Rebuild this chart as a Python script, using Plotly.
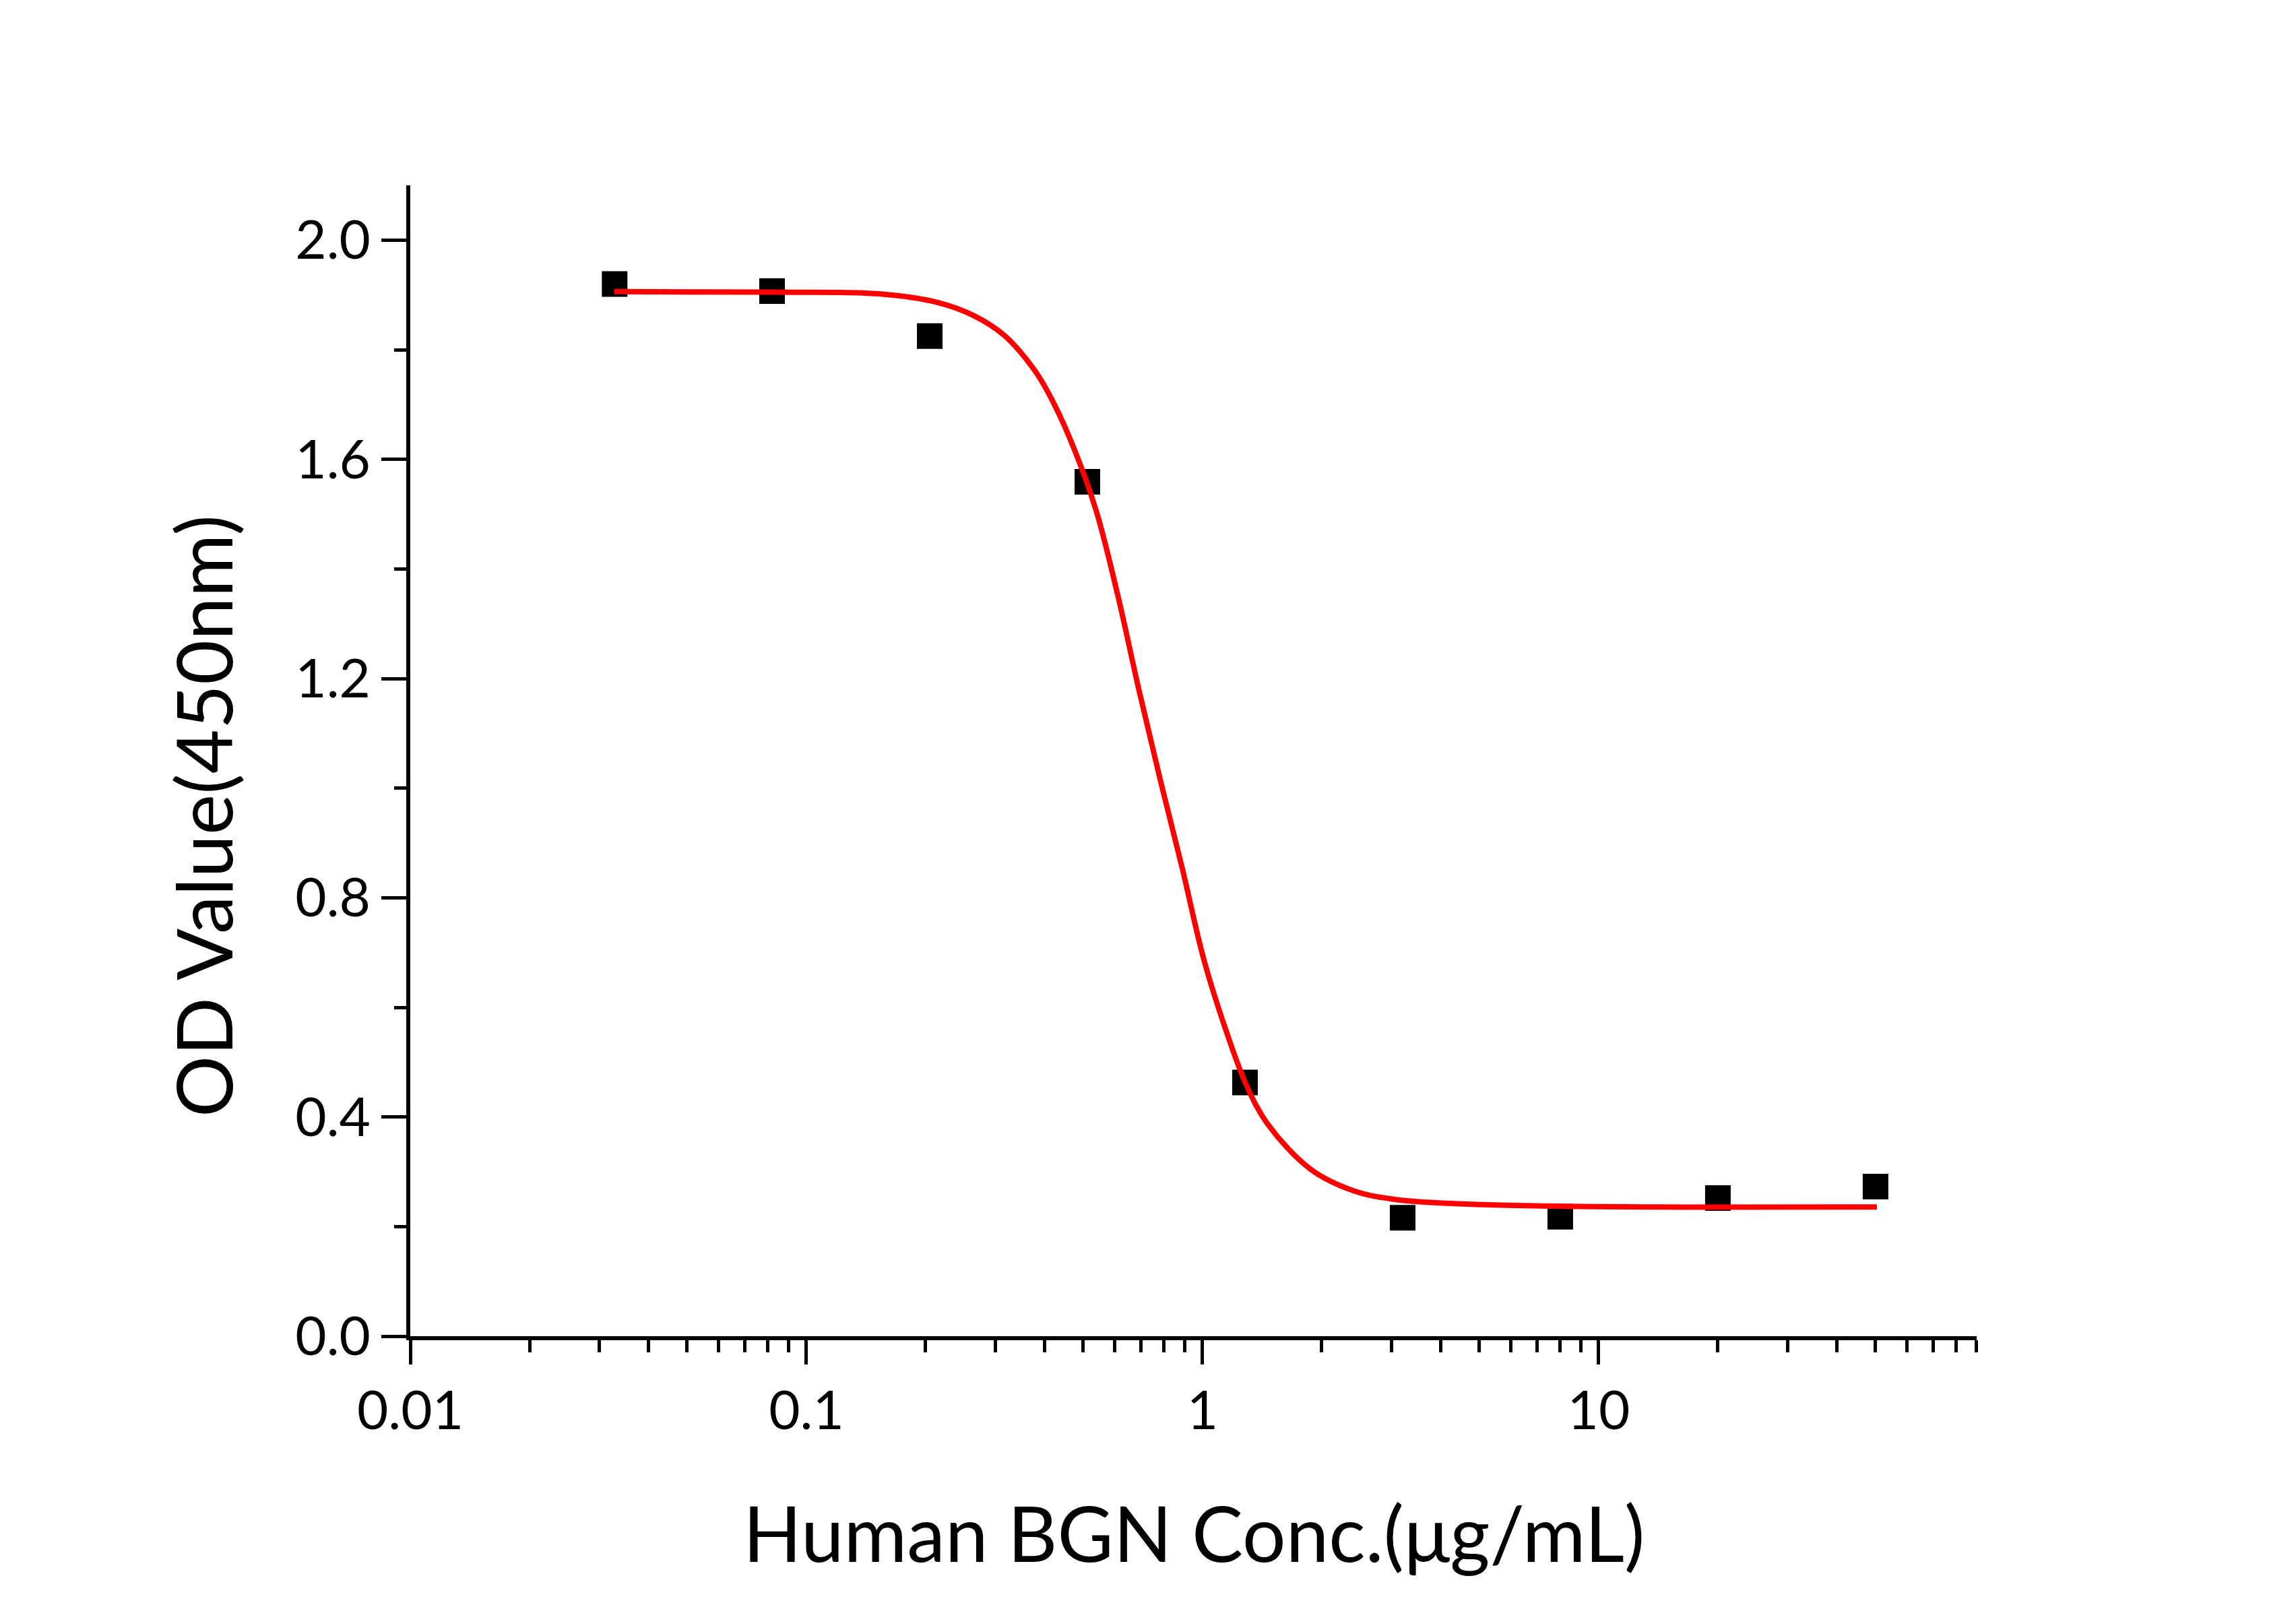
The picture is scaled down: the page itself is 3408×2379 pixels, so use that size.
import plotly.graph_objects as go

# Measured points (2.5-fold dilution series)
conc = [0.0328, 0.0819, 0.2048, 0.512, 1.28, 3.2, 8, 20, 50]
od = [1.920, 1.907, 1.825, 1.559, 0.463, 0.216, 0.218, 0.252, 0.273]

# Fitted curve
fit_conc = [0.0327, 0.0816, 0.152, 0.215, 0.265, 0.316, 0.378, 0.420, 0.476,
            0.539, 0.611, 0.692, 0.784, 0.888, 1.007, 1.141, 1.292, 1.464,
            1.879, 2.413, 3.097, 5.10, 16.4, 50.4]
fit_od = [1.906, 1.905, 1.902, 1.886, 1.862, 1.826, 1.761, 1.704, 1.616,
          1.506, 1.352, 1.177, 1.012, 0.855, 0.688, 0.562, 0.457, 0.386,
          0.304, 0.265, 0.249, 0.240, 0.2355, 0.2357]

x_ticks = [0.01, 0.1, 1, 10]
x_labels = ["0.01", "0.1", "1", "10"]
y_ticks = [0.0, 0.4, 0.8, 1.2, 1.6, 2.0]
y_labels = ["0.0", "0.4", "0.8", "1.2", "1.6", "2.0"]

FONT = "Lato"

fig = go.Figure()
fig.add_trace(go.Scatter(
    x=conc, y=od, mode="markers", showlegend=False,
    marker=dict(symbol="square", size=38, color="black", line=dict(width=0)),
))
fig.add_trace(go.Scatter(
    x=fit_conc, y=fit_od, mode="lines", showlegend=False,
    line=dict(color="#ff0000", width=8, shape="spline", smoothing=1.0),
))

minor_x = [m * 10 ** e for e in range(-2, 2) for m in range(2, 10)]

fig.update_xaxes(
    type="log", range=[-2, 1.95430],
    tickmode="array", tickvals=x_ticks, ticktext=x_labels,
    ticks="outside", ticklen=36, tickwidth=5, tickcolor="black",
    showline=True, linewidth=6, linecolor="black",
    showgrid=False, zeroline=False,
    tickfont=dict(family=FONT, size=80, color="black"),
    minor=dict(tickmode="array", tickvals=minor_x, ticks="outside",
               ticklen=18, tickwidth=5, tickcolor="black", showgrid=False),
)
fig.update_yaxes(
    range=[0, 2.1],
    tickmode="array", tickvals=y_ticks, ticktext=y_labels,
    ticks="outside", ticklen=37, tickwidth=5, tickcolor="black",
    showline=True, linewidth=6, linecolor="black",
    showgrid=False, zeroline=False,
    tickfont=dict(family=FONT, size=80, color="black"),
    minor=dict(tickmode="linear", tick0=0.2, dtick=0.4, ticks="outside",
               ticklen=18, tickwidth=5, tickcolor="black", showgrid=False),
)

fig.add_annotation(
    text="Human BGN Conc.(μg/mL)", xref="paper", yref="paper",
    x=0.5, y=-0.170, xanchor="center", yanchor="middle", showarrow=False,
    font=dict(family=FONT, size=114, color="black"),
)
fig.add_annotation(
    text="OD Value(450nm)", xref="paper", yref="paper", textangle=-90,
    x=-0.1325, y=0.452, xanchor="center", yanchor="middle", showarrow=False,
    font=dict(family=FONT, size=114, color="black"),
)

# page body adds ~8px offset, so margins are shifted to compensate
fig.update_layout(
    width=3408, height=2379, autosize=False,
    margin=dict(l=601, r=482, t=267, b=404, pad=0),
    paper_bgcolor="white", plot_bgcolor="white",
    showlegend=False,
)

fig.write_html("out.html")
